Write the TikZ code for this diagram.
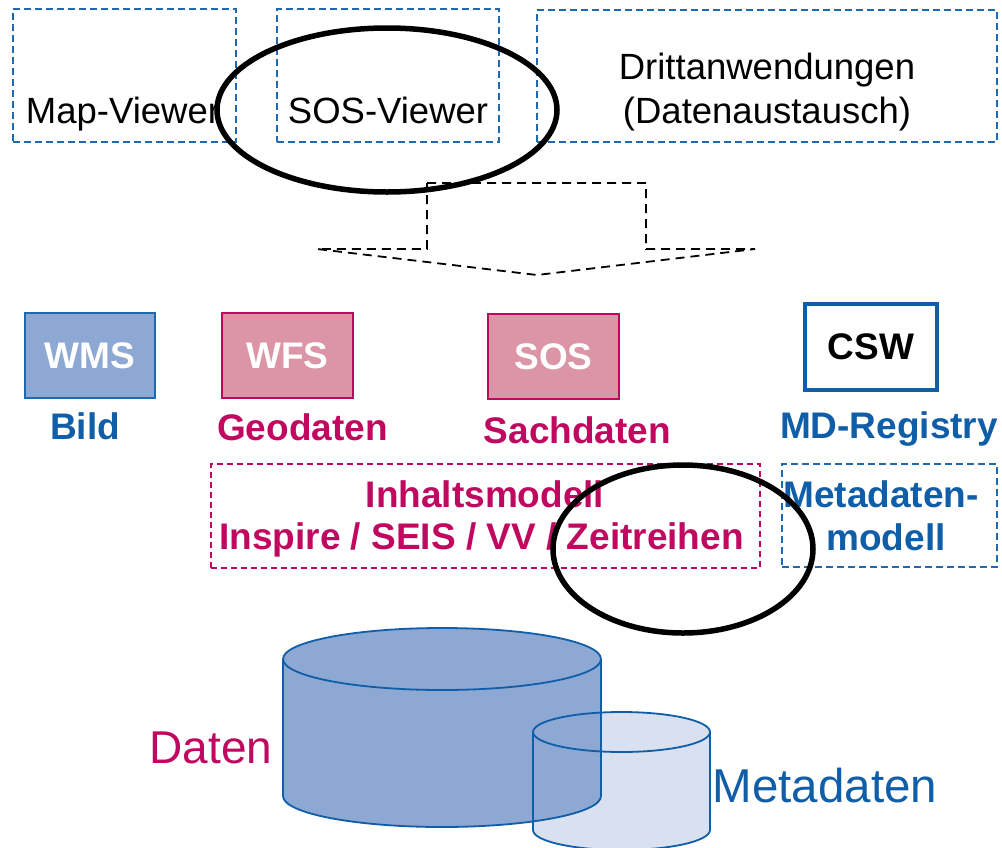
\documentclass[tikz,border=0pt]{standalone}
\usepackage{fontspec}
\setmainfont{Liberation Sans}
\definecolor{myblue}{RGB}{16,94,168}
\definecolor{mymag}{RGB}{192,8,96}
\definecolor{wmsfill}{RGB}{141,168,211}
\definecolor{pinkfill}{RGB}{219,149,166}
\definecolor{lightcyl}{RGB}{217,224,239}
\definecolor{boxblue}{RGB}{30,105,175}
\newcommand\myTop{\fontsize{36.5}{44}\selectfont}
\newcommand\myBold{\fontsize{37}{43}\selectfont\bfseries}
\newcommand\myBig{\fontsize{46}{50}\selectfont}
\newcommand\myBigger{\fontsize{47.5}{50}\selectfont}
\begin{document}
\begin{tikzpicture}[x=1pt,y=-1pt,
  vbox/.style={draw=boxblue, dash pattern=on 7pt off 4pt, line width=1.8pt, rectangle, inner sep=0pt},
  mbox/.style={draw=mymag, dash pattern=on 6pt off 4pt, line width=1.6pt, rectangle, inner sep=0pt},
  svc/.style={rectangle, line width=2pt, inner sep=0pt, text=white, font=\myBold},
  lbl/.style={anchor=base, font=\myBold},
  hiring/.style={draw=black, line width=5.5pt},
  cyl/.style={draw=myblue, line width=1.8pt}]
\useasboundingbox (0,0) rectangle (1002,847);
\fill[white] (0,0) rectangle (1002,847);

% top row
\node[vbox, minimum width=223pt, minimum height=133pt] (mapbox) at (124.5,75.5) {};
\node[vbox, minimum width=222pt, minimum height=133pt] (sosbox) at (388,75.5) {};
\node[vbox, minimum width=460pt, minimum height=132pt] (drittbox) at (767,76) {};
\node[anchor=base, font=\myTop] (tmap) at (123,123) {Map-Viewer};
\node[anchor=base, font=\myTop] (tsos) at (388,123) {SOS-Viewer};
\node[anchor=base, font=\myTop] (tdritt1) at (767,79) {Drittanwendungen};
\node[anchor=base, font=\myTop] (tdritt2) at (767,123) {(Datenaustausch)};

% highlight ellipse top
\draw[hiring] (387,110) ellipse [x radius=170, y radius=82];

% dashed arrow
\draw[black, line width=1.8pt, dash pattern=on 9pt off 6pt]
  (427,183) -- (646,183) -- (646,249) -- (755,249) -- (537,275) -- (317,249) -- (427,249) -- cycle;

% services
\node[svc, draw=boxblue, fill=wmsfill, minimum width=130pt, minimum height=85pt] (wms) at (90,355.5) {WMS};
\node[svc, draw=mymag, fill=pinkfill, minimum width=131pt, minimum height=85pt] (wfs) at (287.5,355.5) {WFS};
\node[svc, draw=mymag, fill=pinkfill, minimum width=131pt, minimum height=85pt] (sos) at (553.5,356.5) {SOS};
\node[svc, draw=myblue, fill=white, text=black, line width=3.5pt, minimum width=132pt, minimum height=86pt] (csw) at (871,347) {CSW};

\node[lbl, text=myblue] (bild) at (85,439) {Bild};
\node[lbl, text=mymag] (geo) at (302.5,440) {Geodaten};
\node[lbl, text=mymag] (sach) at (577.5,443) {Sachdaten};
\node[lbl, text=myblue] (mdreg) at (889,438) {MD-Registry};

% models
\node[mbox, minimum width=549pt, minimum height=104pt] (inhalt) at (485.5,516) {};
\node[vbox, minimum width=215pt, minimum height=103pt] (meta) at (889.5,515.5) {};
\node[lbl, text=mymag] (tinh1) at (485,507) {Inhaltsmodell};
\node[lbl, text=mymag] (tinh2) at (481.5,549) {Inspire / SEIS / VV / Zeitreihen};
\node[lbl, text=myblue] (tmeta1) at (881,507) {Metadaten-};
\node[lbl, text=myblue] (tmeta2) at (886,550) {modell};

% highlight ellipse middle
\draw[hiring] (683,549) ellipse [x radius=130, y radius=84];

% cylinders: fills
\fill[lightcyl] (533,732) rectangle (710,830);
\fill[lightcyl] (621.5,830) ellipse [x radius=88.5, y radius=20];
\fill[lightcyl] (621.5,732) ellipse [x radius=88.5, y radius=20];
\fill[wmsfill] (283,659) rectangle (601,796);
\fill[wmsfill] (442,796) ellipse [x radius=159, y radius=31];
\fill[wmsfill] (442,659) ellipse [x radius=159, y radius=31];
% big outlines
\draw[cyl] (283,659) -- (283,796);
\draw[cyl] (601,659) -- (601,796);
\draw[cyl] (442,659) ellipse [x radius=159, y radius=31];
\begin{scope}
  \clip (270,796) rectangle (615,840);
  \draw[cyl] (442,796) ellipse [x radius=159, y radius=31];
\end{scope}
% small outlines
\draw[cyl] (533,732) -- (533,830);
\draw[cyl] (710,732) -- (710,830);
\draw[cyl] (621.5,732) ellipse [x radius=88.5, y radius=20];
\begin{scope}
  \clip (520,830) rectangle (720,860);
  \draw[cyl] (621.5,830) ellipse [x radius=88.5, y radius=20];
\end{scope}

\node[anchor=base, font=\myBig, text=mymag] (daten) at (211,763) {Daten};
\node[anchor=base, font=\myBigger, text=myblue] (metad) at (825,802) {Metadaten};
\end{tikzpicture}
\end{document}
